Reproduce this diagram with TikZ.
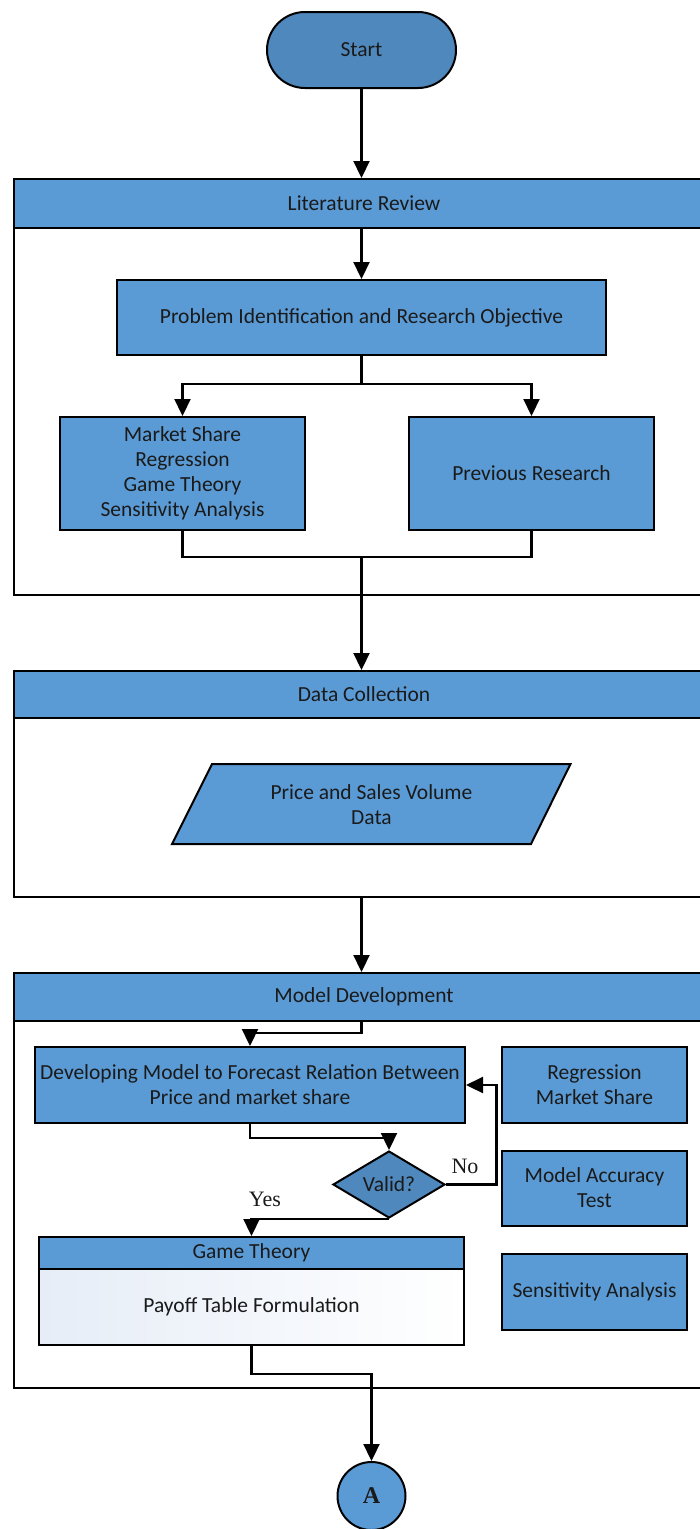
\documentclass[tikz,border=0pt]{standalone}
\usepackage{fontspec}
\setmainfont{Carlito}
\newfontfamily\seriffont{Liberation Serif}
\usetikzlibrary{arrows.meta,shapes.geometric,shapes.misc}
\definecolor{boxblue}{HTML}{5B9BD5}
\definecolor{darkblue}{HTML}{4F88BC}
\definecolor{txt}{HTML}{1A1A1A}
\definecolor{paleblue}{HTML}{E6EDF7}
\begin{document}
\begin{tikzpicture}[x=1pt,y=-1pt,line join=miter,
  arr/.style={line width=2.2pt,-{Triangle[width=16pt,length=17pt]}},
  con/.style={line width=2.2pt},
  box/.style={draw=black,line width=2pt,fill=boxblue,inner sep=0pt,
    font=\fontsize{21.5}{25}\selectfont,text=txt,align=center},
  frame/.style={draw=black,line width=2pt,fill=white,inner sep=0pt,anchor=north west,minimum width=700pt},
  lane/.style={box,anchor=north west,minimum width=700pt},
  lbl/.style={font=\seriffont\fontsize{22}{24}\selectfont,text=txt,inner sep=0pt}]
\useasboundingbox (0,0) rectangle (700,1529);

% Start
\node[box,rounded rectangle,fill=darkblue,minimum width=189pt,minimum height=76pt] (start) at (361.5,50) {Start};

% Literature Review lane
\node[frame,minimum height=416pt] (litf) at (13,178) {};
\node[lane,minimum height=49pt] (lit) at (13,178) {Literature Review};
\draw[arr] (start.south) -- (start.south |- lit.north);

\node[box,minimum width=489pt,minimum height=75pt] (prob) at (361.5,317.5) {Problem Identification and Research Objective};
\draw[arr] (prob.north |- lit.south) -- (prob.north);

\node[box,minimum width=245pt,minimum height=113pt] (ls) at (182.5,473.5) {Market Share\\Regression\\Game Theory\\Sensitivity Analysis};
\node[box,minimum width=245pt,minimum height=113pt] (rs) at (531.5,473.5) {Previous Research};
\draw[arr] (prob.south) -- ++(0,28) -| (ls.north);
\draw[arr] (prob.south) -- ++(0,28) -| (rs.north);
\coordinate (j1) at (361.5,557);
\draw[con] (ls.south) |- (j1) -| (rs.south);

% Data Collection lane
\node[frame,minimum height=226pt] (dcf) at (13,670) {};
\node[lane,minimum height=47pt] (dc) at (13,670) {Data Collection};
\draw[arr] (j1) -- (j1 |- dc.north);

\draw[line width=2pt,fill=boxblue] (172,844) -- (212,764) -- (570.5,764) -- (531,844) -- cycle;
\node[font=\fontsize{21.5}{25}\selectfont,text=txt,align=center,inner sep=0pt] (psv) at (371.5,805) {Price and Sales Volume\\Data};

% Model Development lane
\coordinate (j2) at (361.5,896);
\node[frame,minimum height=415pt] (mdf) at (13,972) {};
\node[lane,minimum height=48pt] (md) at (13,972) {Model Development};
\draw[arr] (j2) -- (j2 |- md.north);

\coordinate (j3) at (361.5,1020);
\node[box,minimum width=430pt,minimum height=76pt] (dev) at (250,1085) {Developing Model to Forecast Relation Between\\Price and market share};
\draw[arr] (j3) -- ++(0,13) -| (dev.north);

\node[box,diamond,fill=darkblue,minimum width=112pt,minimum height=67pt,aspect=1.67] (val) at (389,1184.5) {Valid?};
\draw[arr] (dev.south) -- ++(0,14) -| (val.north);
\draw[arr] (val.east) -- ++(50.5,0) |- (dev.east);
\node[lbl] (no) at (465,1166) {No};

\node[box,anchor=north west,minimum width=425pt,minimum height=32pt] (gth) at (38,1236) {Game Theory};
\node[box,anchor=north west,minimum width=425pt,minimum height=76pt,left color=paleblue,right color=white] (gtb) at (38,1268) {Payoff Table Formulation};
\draw[arr] (val.south) -| (gth.north);
\node[lbl] (yes) at (265,1199) {Yes};

\node[box,minimum width=185pt,minimum height=76pt] (reg) at (594.5,1085) {Regression\\Market Share};
\node[box,minimum width=185pt,minimum height=75pt] (acc) at (594.5,1188) {Model Accuracy\\Test};
\node[box,minimum width=185pt,minimum height=76pt] (sens) at (594.5,1292) {Sensitivity Analysis};

% Connector A
\node[circle,draw=black,line width=2pt,fill=boxblue,minimum size=68pt,inner sep=0pt,text=txt,
  font=\seriffont\bfseries\fontsize{24}{24}\selectfont] (A) at (371.5,1496) {A};
\draw[arr] (gtb.south) -- ++(0,28) -| (A.north);
\end{tikzpicture}
\end{document}
